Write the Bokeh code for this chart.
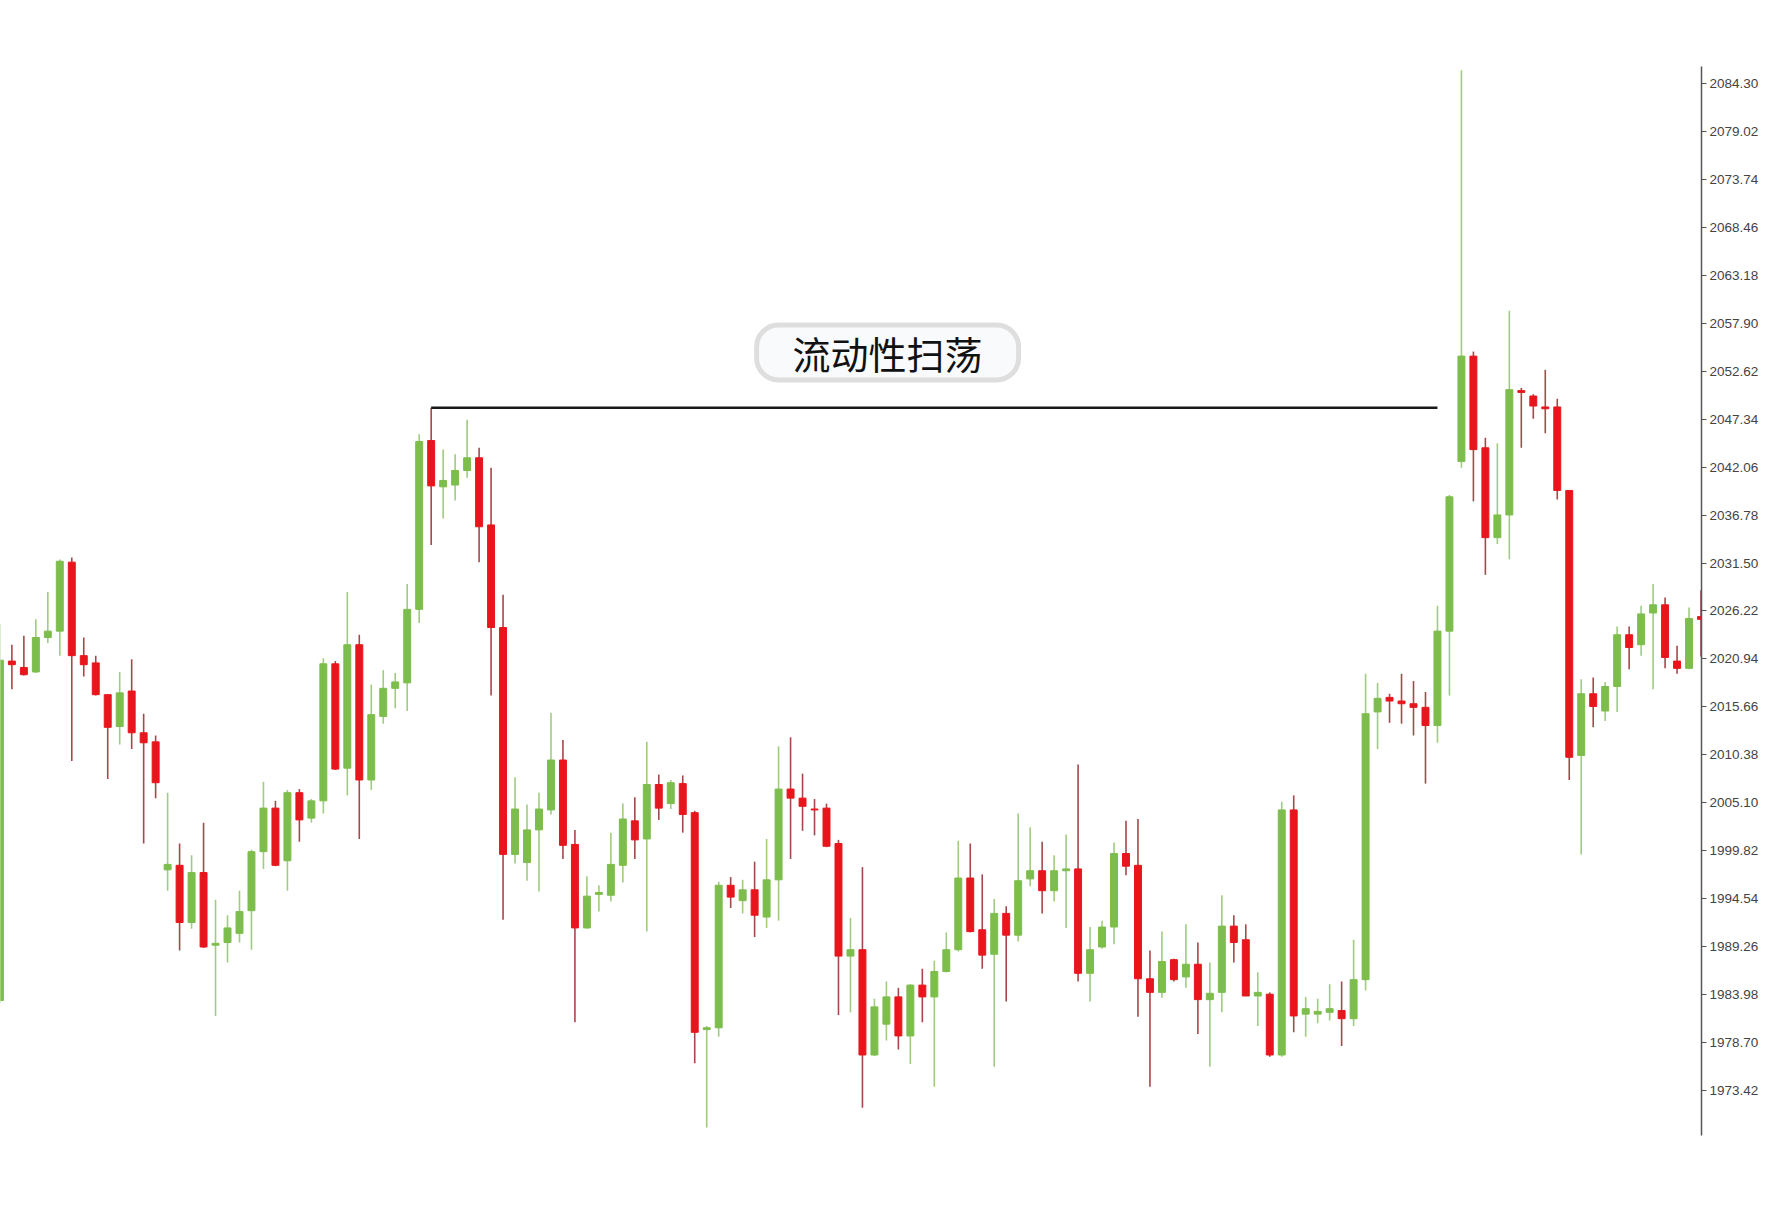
from bokeh.plotting import figure
from bokeh.models import ColumnDataSource, Range1d, FixedTicker, NumeralTickFormatter, Label
from bokeh.embed import file_html
from bokeh.resources import INLINE

# ---- data ----
opens = [1983.3, 2020.7, 2020.0, 2019.5, 2023.3, 2024.0, 2031.6, 2021.3, 2020.5, 2017.0,
         2013.5, 2017.4, 2012.8, 2011.8, 1997.7, 1998.2, 1991.9, 1997.4, 1989.4, 1989.7,
         1990.7, 1993.2, 1999.7, 2004.5, 1998.7, 2006.2, 2003.4, 2005.3, 2020.4, 2008.9,
         2022.5, 2007.6, 2014.6, 2017.7, 2018.3, 2026.4, 2045.0, 2039.9, 2040.1, 2041.7,
         2043.1, 2035.7, 2024.4, 1999.4, 1998.5, 2002.1, 2004.3, 2009.8, 2000.5, 1991.3,
         1995.0, 1994.9, 1998.2, 2003.1, 2001.1, 2007.1, 2005.0, 2007.2, 2004.0, 1980.1,
         1980.3, 1996.0, 1994.3, 1995.5, 1992.5, 1996.6, 2006.6, 2005.6, 2004.4, 2004.5,
         2000.6, 1988.2, 1988.9, 1977.3, 1980.7, 1983.7, 1979.4, 1985.0, 1983.7, 1986.5,
         1988.9, 1996.8, 1991.1, 1988.4, 1992.9, 1990.5, 1996.7, 1997.6, 1995.4, 1997.6,
         1997.8, 1986.3, 1989.2, 1991.4, 1999.5, 1998.2, 1985.7, 1984.2, 1987.8, 1985.9,
         1987.3, 1983.4, 1984.2, 1991.5, 1990.0, 1983.8, 1984.0, 1977.3, 2004.3, 1981.8,
         1981.8, 1982.0, 1982.2, 1981.3, 1985.6, 2015.1, 2016.7, 2016.3, 2016.0, 2015.6,
         2013.6, 2024.0, 2042.7, 2054.3, 2044.2, 2034.3, 2036.8, 2050.5, 2049.9, 2048.7,
         2048.7, 2039.5, 2010.3, 2017.1, 2015.2, 2017.9, 2023.6, 2022.5, 2026.0, 2026.9,
         2020.7, 2019.9, 2025.6]
highs = [2024.8, 2022.5, 2023.5, 2025.3, 2028.3, 2031.9, 2032.1, 2023.3, 2021.3, 2017.0,
         2019.5, 2020.9, 2014.9, 2012.5, 2006.2, 2000.6, 1999.3, 2002.9, 1994.4, 1992.7,
         1995.4, 1999.9, 2007.4, 2005.3, 2006.5, 2006.6, 2005.5, 2021.0, 2020.7, 2028.3,
         2023.6, 2018.1, 2019.7, 2019.4, 2029.2, 2045.7, 2048.6, 2044.0, 2043.5, 2047.3,
         2044.2, 2042.0, 2028.0, 2007.9, 2004.9, 2006.2, 2015.0, 2012.0, 2002.1, 1997.0,
         1996.0, 2001.8, 2005.0, 2005.7, 2011.8, 2008.2, 2007.6, 2008.1, 2004.2, 1980.5,
         1996.4, 1996.9, 1996.6, 1998.6, 2001.1, 2011.3, 2012.3, 2008.3, 2005.5, 2005.0,
         2001.0, 1992.4, 1998.0, 1983.5, 1985.4, 1984.7, 1985.1, 1986.8, 1987.7, 1990.8,
         2000.9, 2000.6, 1997.2, 1994.5, 1993.7, 2003.9, 2002.4, 2000.8, 1999.3, 2001.6,
         2009.3, 1991.4, 1992.1, 2000.7, 2003.1, 2003.3, 1988.8, 1990.9, 1987.9, 1991.7,
         1989.7, 1987.5, 1994.9, 1992.7, 1991.7, 1986.4, 1984.2, 2005.2, 2005.9, 1983.7,
         1983.5, 1985.1, 1985.4, 1990.0, 2019.3, 2018.3, 2017.1, 2019.3, 2018.5, 2017.3,
         2026.8, 2039.0, 2085.8, 2054.8, 2045.3, 2044.7, 2059.3, 2050.8, 2050.1, 2052.8,
         2049.6, 2039.5, 2018.7, 2018.9, 2018.4, 2024.5, 2024.5, 2026.8, 2029.2, 2027.7,
         2022.4, 2026.6, 2028.5]
lows = [1983.0, 2017.6, 2019.1, 2019.4, 2022.7, 2021.3, 2009.7, 2019.0, 2016.9, 2007.7,
        2011.5, 2011.0, 2000.6, 2005.6, 1995.4, 1988.8, 1991.2, 1989.1, 1981.6, 1987.5,
        1989.7, 1988.9, 1997.8, 1998.1, 1995.4, 2000.8, 2002.9, 2003.9, 2008.7, 2005.9,
        2001.1, 2006.5, 2013.8, 2015.5, 2015.2, 2024.9, 2033.5, 2036.4, 2038.4, 2040.9,
        2031.6, 2016.9, 1992.2, 1998.4, 1996.5, 1995.3, 2003.8, 1998.9, 1980.9, 1991.2,
        1993.1, 1994.2, 1996.3, 1998.9, 1990.9, 2003.2, 2004.4, 2001.8, 1976.4, 1969.3,
        1979.3, 1993.5, 1992.9, 1990.3, 1991.3, 1992.1, 1998.9, 2002.0, 2001.5, 2000.2,
        1981.7, 1982.0, 1971.5, 1977.2, 1978.9, 1977.9, 1976.3, 1980.9, 1973.8, 1986.4,
        1988.7, 1990.8, 1986.8, 1976.0, 1983.2, 1989.8, 1995.9, 1992.9, 1994.2, 1991.3,
        1985.4, 1983.2, 1989.0, 1989.5, 1997.1, 1981.5, 1973.8, 1983.6, 1985.4, 1984.7,
        1979.6, 1976.0, 1982.0, 1987.5, 1983.8, 1980.5, 1977.1, 1977.1, 1979.8, 1979.3,
        1980.8, 1981.1, 1978.3, 1980.5, 1984.4, 2011.0, 2013.9, 2013.8, 2012.5, 2007.2,
        2011.7, 2016.9, 2042.0, 2038.3, 2030.2, 2033.6, 2031.9, 2044.2, 2047.4, 2045.8,
        2038.5, 2007.6, 1999.4, 2013.4, 2014.1, 2015.1, 2019.8, 2021.3, 2017.6, 2019.9,
        2019.3, 2019.8, 2021.2]
closes = [2020.8, 2020.3, 2019.2, 2023.3, 2024.0, 2031.7, 2021.3, 2020.3, 2017.0, 2013.4,
          2017.2, 2012.8, 2011.7, 2007.3, 1998.3, 1991.9, 1997.4, 1989.2, 1989.6, 1991.3,
          1993.1, 1999.7, 2004.5, 1998.2, 2006.2, 2003.2, 2005.3, 2020.4, 2008.8, 2022.5,
          2007.6, 2014.8, 2017.7, 2018.4, 2026.4, 2044.9, 2040.0, 2040.6, 2041.7, 2043.1,
          2035.5, 2024.4, 1999.4, 2004.4, 2002.1, 2004.4, 2009.8, 2000.4, 1991.3, 1994.8,
          1995.2, 1998.3, 2003.3, 2001.0, 2007.1, 2004.5, 2007.3, 2003.8, 1979.8, 1980.3,
          1996.0, 1994.7, 1995.5, 1992.7, 1996.6, 2006.6, 2005.6, 2004.7, 2004.3, 2000.3,
          1988.2, 1988.9, 1977.3, 1982.6, 1983.7, 1979.4, 1985.0, 1983.7, 1986.5, 1988.9,
          1996.8, 1990.9, 1988.3, 1992.9, 1990.5, 1996.5, 1997.6, 1995.4, 1997.6, 1997.8,
          1986.3, 1988.9, 1991.4, 1999.5, 1998.1, 1985.7, 1984.2, 1987.6, 1985.6, 1987.3,
          1983.4, 1984.1, 1991.5, 1989.7, 1983.8, 1984.2, 1977.3, 2004.3, 1981.6, 1982.4,
          1982.1, 1982.4, 1981.3, 1985.6, 2014.9, 2016.6, 2016.3, 2016.0, 2015.6, 2013.6,
          2024.0, 2038.8, 2054.3, 2044.0, 2034.3, 2036.8, 2050.6, 2050.3, 2048.8, 2048.5,
          2039.5, 2010.1, 2017.1, 2015.7, 2017.9, 2023.6, 2022.2, 2025.9, 2026.9, 2021.1,
          2019.9, 2025.4, 2025.3]

price_ticks = [2084.30, 2079.02, 2073.74, 2068.46, 2063.18, 2057.90, 2052.62, 2047.34,
               2042.06, 2036.78, 2031.50, 2026.22, 2020.94, 2015.66, 2010.38, 2005.10,
               1999.82, 1994.54, 1989.26, 1983.98, 1978.70, 1973.42]

sweep_from = 36      # bar whose high is swept
sweep_to = 120       # end of the liquidity line
label_text = "流动性扫荡"

# ---- build ----
n = len(opens)
idx = list(range(n))
GREEN, RED = "#7dbd4c", "#e8161c"
GREEN_WICK, RED_WICK = "#9fcc80", "#a5484a"
up = [c >= o for o, c in zip(opens, closes)]
src = ColumnDataSource(dict(
    x=idx,
    top=[max(o, c) for o, c in zip(opens, closes)],
    bottom=[min(o, c) for o, c in zip(opens, closes)],
    high=highs, low=lows,
    color=[GREEN if u else RED for u in up],
    wick=[GREEN_WICK if u else RED_WICK for u in up],
))

p = figure(width=1762, height=1198, output_backend="svg", toolbar_location=None,
           x_range=Range1d(0.05, n - 0.96), y_range=Range1d(1968.43, 2086.21),
           y_axis_location="right", x_axis_location=None,
           min_border_left=0, min_border_right=61, min_border_top=66, min_border_bottom=63)
p.background_fill_color = "white"
p.border_fill_color = "white"
p.outline_line_color = None
p.grid.visible = False

p.segment(x0="x", y0="high", x1="x", y1="low", source=src, line_color="wick", line_width=1.6)
p.vbar(x="x", width=0.58, top="top", bottom="bottom", source=src,
       fill_color="color", line_color="color", line_width=1)

# liquidity line at the swept high
p.segment(x0=[sweep_from], y0=[highs[sweep_from]], x1=[sweep_to], y1=[highs[sweep_from]],
          line_color="#1a1a1a", line_width=2.5)

lab = Label(x=74.1, y=2054.7, text=label_text, text_align="center", text_baseline="middle",
            text_font="Noto Sans CJK SC", text_font_size="38px", text_color="#111111",
            background_fill_color="#f8fafc", border_line_color="#dedede", border_line_width=5,
            border_radius=22, padding=(36, 0))
p.add_layout(lab)

ax = p.yaxis[0]
ax.ticker = FixedTicker(ticks=price_ticks)
ax.formatter = NumeralTickFormatter(format="0.00")
ax.axis_line_color = "#555555"
ax.axis_line_width = 1.5
ax.major_tick_line_color = "#555555"
ax.major_tick_out = 5
ax.major_tick_in = 0
ax.minor_tick_line_color = None
ax.major_label_standoff = 3
ax.major_label_text_font = "Liberation Sans"
ax.major_label_text_font_size = "13.5px"
ax.major_label_text_color = "#444444"

open("out.html", "w").write(file_html(p, INLINE))
